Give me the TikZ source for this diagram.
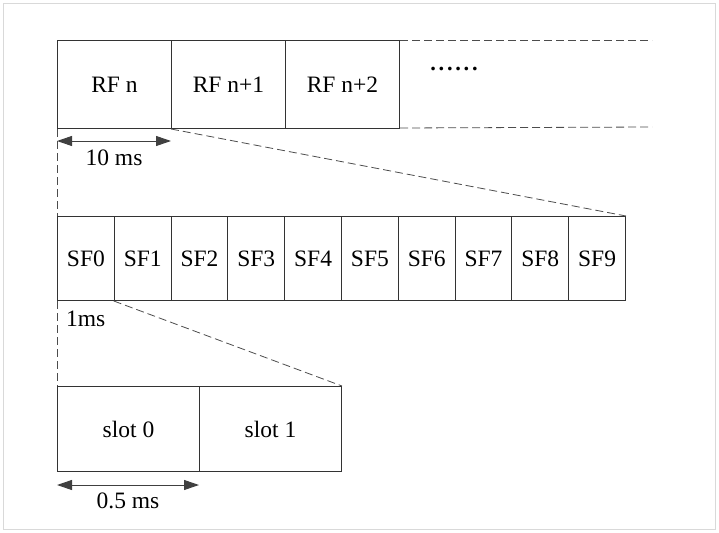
\documentclass[tikz,border=0pt]{standalone}
\usepackage{fontspec}
\setmainfont{Liberation Serif}
\usetikzlibrary{arrows.meta}
\begin{document}
\begin{tikzpicture}[x=1pt,y=-1pt,
  cell/.style={draw=black!80, line width=1pt, inner sep=0pt, anchor=north west, font=\fontsize{23.5}{27}\selectfont},
  rfbox/.style={cell, minimum width=114pt, minimum height=88pt},
  sfbox/.style={cell, minimum width=56.8pt, minimum height=84pt},
  slotbox/.style={cell, minimum width=142pt, minimum height=85pt},
  guide/.style={draw=black!70, dash pattern=on 8pt off 4pt, line width=0.8pt},
  dimarrow/.style={draw=black!75, line width=1pt, {Triangle[length=15pt,width=10pt]}-{Triangle[length=15pt,width=10pt]}},
  lbl/.style={font=\fontsize{23.5}{27}\selectfont, inner sep=0pt}]
\useasboundingbox (0,0) rectangle (719,532);
\draw[black!15, line width=0.8pt] (3,3) rectangle (715,529);
% radio frames
\node[rfbox] (rf0) at (57,40) {RF n};
\node[rfbox] (rf1) at (171,40) {RF n+1};
\node[rfbox] (rf2) at (285,40) {RF n+2};
\node[lbl, font=\fontsize{22.5}{26}\selectfont\bfseries] (dots) at (454,69) {\addfontfeature{LetterSpace=12}......};
\coordinate (t1) at (652,40);
\coordinate (t2) at (652,127);
\draw[guide] (rf2.north east) -- (t1);
\draw[guide] (rf2.south east) ++(0,-1) -- (t2);
% 10 ms
\coordinate (a1) at (57,141);
\coordinate (a2) at (171,141);
\draw[dimarrow] (a1) -- (a2);
\node[lbl] (l10) at (114,158) {10 ms};
% subframes
\foreach \i in {0,...,9} {
  \node[sfbox] (sf\i) at ({57+56.8*\i},216) {SF\i};
}
\draw[guide] (rf0.south west) -- (sf0.north west);
\draw[guide] (rf1.south west) -- (sf9.north east);
\node[lbl, anchor=west] (l1) at (66,319) {1ms};
% slots
\node[slotbox] (s0) at (57,386) {slot 0};
\node[slotbox] (s1) at (199,386) {slot 1};
\draw[guide] (sf0.south west) -- (s0.north west);
\draw[guide] (sf1.south west) -- (s1.north east);
\coordinate (b1) at (57,485);
\coordinate (b2) at (199,485);
\draw[dimarrow] (b1) -- (b2);
\node[lbl] (l05) at (128,501) {0.5 ms};
\end{tikzpicture}
\end{document}
